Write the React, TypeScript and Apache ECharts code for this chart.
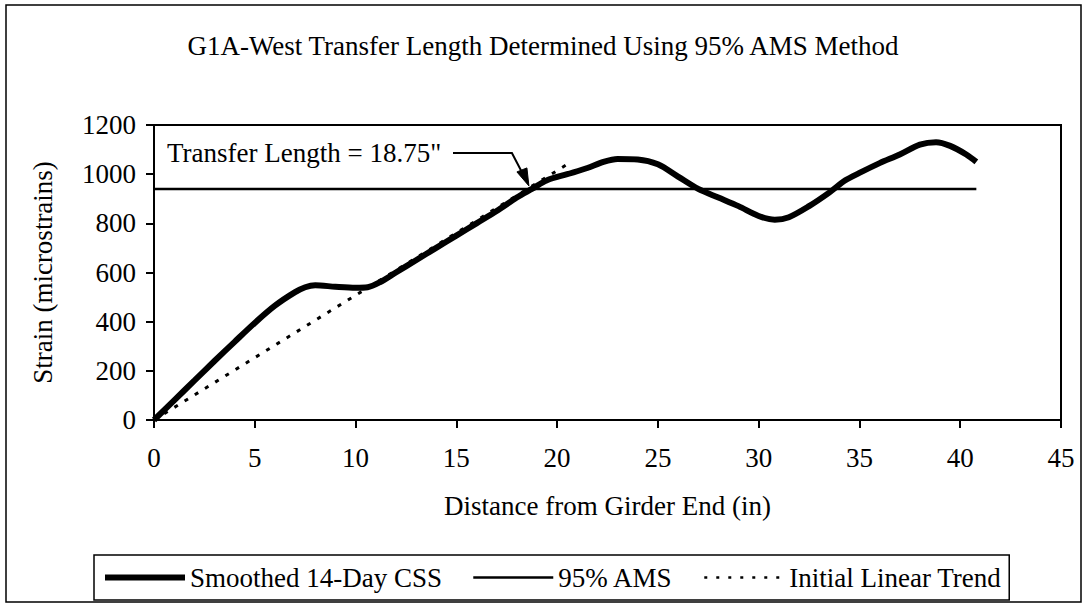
import React, { useEffect, useRef } from "react";
import * as echarts from "echarts";

const titleText = "G1A-West Transfer Length Determined Using 95% AMS Method";
const xAxisTitle = "Distance from Girder End (in)";
const yAxisTitle = "Strain (microstrains)";
const seriesNames = ["Smoothed 14-Day CSS", "95% AMS", "Initial Linear Trend"];

// Smoothed 14-Day CSS
const cssDistance = [0, 1, 2, 3, 4, 5, 6, 7, 7.5, 8, 9, 10, 10.6, 11.2, 12, 13, 14, 15, 16, 17, 18, 18.75, 19.5, 20.5, 21.5, 22.3, 23, 24, 25, 26, 27, 28, 29, 30, 30.8, 31.5, 32.5, 33.5, 34.3, 35, 36, 37, 38, 38.8, 39.5, 40.3, 40.8];
const cssStrain = [0, 80, 160, 240, 318, 395, 465, 520, 540, 548, 542, 538, 540, 560, 600, 650, 700, 750, 800, 850, 905, 940, 975, 1000, 1025, 1050, 1062, 1060, 1040, 990, 940, 905, 870, 830, 815, 825, 870, 925, 975, 1005, 1045, 1080, 1120, 1130, 1115, 1080, 1050];

// 95% AMS
const amsDistance = [0, 40.8];
const amsStrain = [940, 940];

// Initial linear trend
const trendDistance = [0, 20.6];
const trendStrain = [0, 1045];

const transferLength = 18.75;
const annotationText = 'Transfer Length = 18.75"';

const xTicks = { min: 0, max: 45, interval: 5 };
const yTicks = { min: 0, max: 1200, interval: 200 };

const FONT = "'Liberation Serif', 'Times New Roman', serif";

function pairs(xs: number[], ys: number[]) {
  return xs.map((x, i) => [x, ys[i]]);
}

export default function App() {
  const ref = useRef<HTMLDivElement>(null);
  useEffect(() => {
    if (!ref.current) return;
    const chart = echarts.init(ref.current, null, { renderer: "svg" });
    const axisCommon = {
      axisLine: { show: true, lineStyle: { color: "#000", width: 2 } },
      axisTick: { show: true, inside: false, length: 8, lineStyle: { color: "#000", width: 2 } },
      splitLine: { show: false },
      nameTextStyle: { color: "#000", fontFamily: FONT, fontSize: 27 },
    };
    const labelCommon = {
      color: "#000",
      fontFamily: FONT,
      fontSize: 27,
      formatter: (v: number) => String(v),
    };
    const hiddenSymbol = { opacity: 0, borderWidth: 0 };
    chart.setOption({
      animation: false,
      backgroundColor: "#fff",
      title: {
        text: titleText,
        left: "center",
        top: 27,
        textStyle: { color: "#000", fontFamily: FONT, fontSize: 27, fontWeight: "normal" },
      },
      grid: {
        left: 154,
        right: 25,
        top: 125,
        bottom: 186,
        show: true,
        borderColor: "#000",
        borderWidth: 2,
        containLabel: false,
      },
      xAxis: {
        type: "value",
        ...xTicks,
        name: xAxisTitle,
        nameLocation: "middle",
        nameGap: 72,
        ...axisCommon,
        axisLabel: { ...labelCommon, margin: 24 },
      },
      yAxis: {
        type: "value",
        ...yTicks,
        name: yAxisTitle,
        nameLocation: "middle",
        nameGap: 98,
        ...axisCommon,
        axisLabel: { ...labelCommon, margin: 18 },
      },
      legend: {
        data: [
          { name: seriesNames[0], itemStyle: hiddenSymbol, lineStyle: { width: 6, color: "#000" } },
          { name: seriesNames[1], itemStyle: hiddenSymbol, lineStyle: { width: 2.5, color: "#000" } },
          { name: seriesNames[2], itemStyle: hiddenSymbol, lineStyle: { width: 2.5, color: "#000", type: [3, 9] } },
        ],
        left: 94,
        top: 555,
        orient: "horizontal",
        itemWidth: 80,
        itemHeight: 20,
        itemGap: 30,
        padding: [6, 8],
        borderColor: "#000",
        borderWidth: 1.5,
        textStyle: { color: "#000", fontFamily: FONT, fontSize: 27, lineHeight: 33 },
      },
      series: [
        {
          name: seriesNames[0],
          type: "line",
          data: pairs(cssDistance, cssStrain),
          smooth: 0.3,
          symbol: "none",
          lineStyle: { color: "#000", width: 6 },
          itemStyle: { color: "#000" },
          z: 3,
        },
        {
          name: seriesNames[1],
          type: "line",
          data: pairs(amsDistance, amsStrain),
          symbol: "none",
          lineStyle: { color: "#000", width: 2.5 },
          itemStyle: { color: "#000" },
          z: 2,
        },
        {
          name: seriesNames[2],
          type: "line",
          data: pairs(trendDistance, trendStrain),
          symbol: "none",
          lineStyle: { color: "#000", width: 3, type: [4, 8] },
          itemStyle: { color: "#000" },
          z: 2,
        },
      ],
    });
    const tip = chart.convertToPixel({ gridIndex: 0 }, [transferLength, amsStrain[0]]) as number[];
    const tx = tip[0] - 3;
    const ty = tip[1] - 3;
    const bendX = tx - 17;
    const bendY = ty - 33;
    chart.setOption({
      graphic: [
        {
          type: "rect",
          shape: { x: 6, y: 5, width: 1075, height: 597 },
          style: { fill: "none", stroke: "#000", lineWidth: 1.5 },
          silent: true,
        },
        {
          type: "text",
          x: 167,
          y: bendY,
          style: { text: annotationText, fill: "#000", font: `27px ${FONT}`, verticalAlign: "middle", align: "left" },
          z: 10,
        },
        {
          type: "polyline",
          shape: { points: [[453, bendY], [bendX, bendY], [tx - 5, ty - 10]] },
          style: { stroke: "#000", lineWidth: 2, fill: "none" },
          z: 10,
        },
        {
          type: "polygon",
          shape: { points: [[tx, ty], [tx - 12, ty - 14], [tx - 2, ty - 18]] },
          style: { fill: "#000", stroke: "#000", lineWidth: 1 },
          z: 10,
        },
      ],
    });
    return () => chart.dispose();
  }, []);
  return (
    <div
      ref={ref}
      style={{ position: "fixed", left: 0, top: 0, width: 1086, height: 606, background: "#fff" }}
    />
  );
}
